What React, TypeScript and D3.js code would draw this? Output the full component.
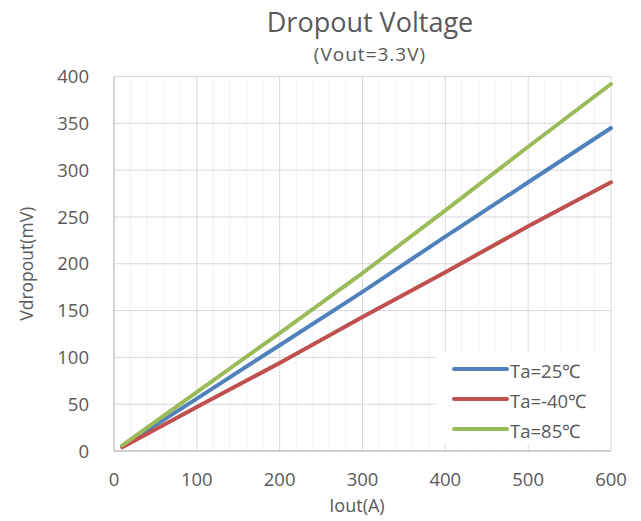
import React from "react";
import * as d3 from "d3";

const xValues = [10, 100, 200, 300, 400, 500, 600];
const seriesNames = ["Ta=25℃", "Ta=-40℃", "Ta=85℃"];
const ta25 = [5, 56, 113, 170, 229, 287, 345];
const taMinus40 = [4, 47, 94, 143, 191, 240, 287];
const ta85 = [6, 63, 126, 190, 257, 325, 392];
const seriesColors = ["#4F81BD", "#C0504D", "#9BBB59"];
const xTicks = [0, 100, 200, 300, 400, 500, 600];
const yTicks = [0, 50, 100, 150, 200, 250, 300, 350, 400];

const W = 641;
const H = 521;
const left = 114;
const right = 611;
const top = 76.5;
const bottom = 451;
const font = "'Open Sans', sans-serif";
const textColor = "#595959";

export default function App() {
  const x = d3.scaleLinear().domain([0, 600]).range([left, right]);
  const y = d3.scaleLinear().domain([0, 400]).range([bottom, top]);
  const minorTicks = d3.range(0, 601, 20).filter((v) => v % 100 !== 0);
  const allSeries = [ta25, taMinus40, ta85];
  const line = d3
    .line<number>()
    .x((_, i) => x(xValues[i]))
    .y((d) => y(d));

  return (
    <svg
      width={W}
      height={H}
      style={{ position: "absolute", left: 0, top: 0, background: "#fff" }}
    >
      <rect x={0} y={0} width={W} height={H} fill="#fff" />
      <text
        x={370}
        y={32}
        textAnchor="middle"
        fontFamily={font}
        fontSize={27}
        fill={textColor}
      >
        Dropout Voltage
      </text>
      <text
        x={370}
        y={61}
        textAnchor="middle"
        fontFamily={font}
        fontSize={19}
        letterSpacing={1}
        fill={textColor}
      >
        (Vout=3.3V)
      </text>
      {minorTicks.map((t) => (
        <line
          key={"m" + t}
          x1={x(t)}
          x2={x(t)}
          y1={top}
          y2={bottom}
          stroke="#F2F2F2"
          strokeWidth={1}
        />
      ))}
      {xTicks.slice(1).map((t) => (
        <line
          key={"vx" + t}
          x1={x(t)}
          x2={x(t)}
          y1={top}
          y2={bottom}
          stroke="#D9D9D9"
          strokeWidth={1}
        />
      ))}
      {yTicks.slice(1).map((t) => (
        <line
          key={"hy" + t}
          x1={left}
          x2={right}
          y1={y(t)}
          y2={y(t)}
          stroke="#D9D9D9"
          strokeWidth={1}
        />
      ))}
      <line x1={left} x2={left} y1={top} y2={bottom} stroke="#BFBFBF" strokeWidth={1.3} />
      <line x1={left} x2={right} y1={bottom} y2={bottom} stroke="#BFBFBF" strokeWidth={1.3} />
      {yTicks.map((t) => (
        <text
          key={"yl" + t}
          x={89}
          y={y(t)}
          dy="0.36em"
          textAnchor="end"
          fontFamily={font}
          fontSize={18.5}
          fill={textColor}
        >
          {t}
        </text>
      ))}
      {xTicks.map((t) => (
        <text
          key={"xl" + t}
          x={x(t)}
          y={486}
          textAnchor="middle"
          fontFamily={font}
          fontSize={18.5}
          fill={textColor}
        >
          {t}
        </text>
      ))}
      <text
        x={357}
        y={512}
        textAnchor="middle"
        fontFamily={font}
        fontSize={18}
        fill={textColor}
      >
        Iout(A)
      </text>
      <text
        transform={`translate(33, ${(top + bottom) / 2}) rotate(-90)`}
        textAnchor="middle"
        fontFamily={font}
        fontSize={17.5}
        fill={textColor}
      >
        Vdropout(mV)
      </text>
      {allSeries.map((s, i) => (
        <path
          key={"s" + i}
          d={line(s) || ""}
          fill="none"
          stroke={seriesColors[i]}
          strokeWidth={4}
          strokeLinecap="round"
        />
      ))}
      <rect x={436} y={353} width={174} height={92} fill="#fff" />
      {seriesNames.map((n, i) => (
        <g key={"lg" + i}>
          <line
            x1={454}
            x2={507}
            y1={369 + i * 30}
            y2={369 + i * 30}
            stroke={seriesColors[i]}
            strokeWidth={4}
            strokeLinecap="round"
          />
          <text
            x={510}
            y={369 + i * 30}
            dy="0.5em"
            fontFamily={font}
            fontSize={18.5}
            fill={textColor}
          >
            {n}
          </text>
        </g>
      ))}
    </svg>
  );
}
